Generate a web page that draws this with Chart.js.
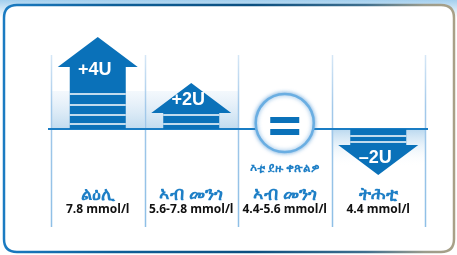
<!DOCTYPE html>
<html>
<head>
<meta charset="utf-8">
<script src="https://cdn.jsdelivr.net/npm/chart.js@4"></script>
<style>
  html, body { margin: 0; padding: 0; background: #fff; }
  #wrap { width: 457px; height: 255px; }
</style>
</head>
<body>
<div id="wrap"><canvas id="dose-chart" width="457" height="255"></canvas></div>
<script>
// insulin dose change per glucose level
const doses = [4, 2, 0, -2];
const doseLabels = ['+4U', '+2U', '=', '–2U'];
const levelNames = ['ልዕሊ', 'ኣብ መንጎ', 'ኣብ መንጎ', 'ትሕቲ'];
const levelRanges = ['7.8 mmol/l', '5.6-7.8 mmol/l', '4.4-5.6 mmol/l', '4.4 mmol/l'];
const keepNote = 'እቲ ደዙ ቀጽልዎ';

const BLUE = '#0a71b9';

// Function to trace a rounded rectangle
function roundRect(ctx, x, y, w, h, r) {
    ctx.beginPath();
    ctx.moveTo(x + r, y);
    ctx.lineTo(x + w - r, y);
    ctx.quadraticCurveTo(x + w, y, x + w, y + r);
    ctx.lineTo(x + w, y + h - r);
    ctx.quadraticCurveTo(x + w, y + h, x + w - r, y + h);
    ctx.lineTo(x + r, y + h);
    ctx.quadraticCurveTo(x, y + h, x, y + h - r);
    ctx.lineTo(x, y + r);
    ctx.quadraticCurveTo(x, y, x + r, y);
    ctx.closePath();
}

// frame, column shading and separators
const framePlugin = {
    id: 'frame',
    beforeDraw(chart) {
        const ctx = chart.ctx;
        const area = chart.chartArea;
        const xs = chart.scales.x;
        const zeroY = chart.scales.y.getPixelForValue(0);
        const half = (xs.getPixelForValue(1) - xs.getPixelForValue(0)) / 2;

        ctx.save();
        ctx.fillStyle = '#fff';
        ctx.fillRect(0, 0, 457, 255);
        const band = ctx.createLinearGradient(0, 0, 0, 18);
        band.addColorStop(0, '#a3cfee');
        band.addColorStop(1, '#ffffff');
        ctx.fillStyle = band;
        ctx.fillRect(0, 0, 457, 18);

        roundRect(ctx, 4, 5, 450, 247, 13);
        ctx.fillStyle = '#fff';
        ctx.fill();
        const edge = ctx.createLinearGradient(0, 0, 457, 0);
        edge.addColorStop(0, '#1b7cc3');
        edge.addColorStop(0.25, '#0e5f98');
        edge.addColorStop(0.55, '#0b4f80');
        edge.addColorStop(0.8, '#3f6f8e');
        edge.addColorStop(0.93, '#9c9c8c');
        edge.addColorStop(1, '#aaa187');
        ctx.strokeStyle = edge;
        ctx.lineWidth = 2.5;
        ctx.stroke();

        // soft shading behind the arrows
        doses.forEach((d, i) => {
            if (d === 0) return;
            const cx = xs.getPixelForValue(i);
            const g = d > 0
                ? ctx.createLinearGradient(0, zeroY - 38, 0, zeroY)
                : ctx.createLinearGradient(0, zeroY, 0, zeroY + 38);
            if (d > 0) {
                g.addColorStop(0, 'rgba(232,241,250,0.5)');
                g.addColorStop(1, '#c0dbef');
                ctx.fillStyle = g;
                ctx.fillRect(cx - half, zeroY - 38, half * 2, 38);
            } else {
                g.addColorStop(0, '#b9d8ef');
                g.addColorStop(1, 'rgba(255,255,255,0)');
                ctx.fillStyle = g;
                ctx.fillRect(cx - half, zeroY, half * 2, 38);
            }
        });

        // column separators
        const top = 55;
        const lg = ctx.createLinearGradient(0, top, 0, area.bottom);
        lg.addColorStop(0, '#d6e7f6');
        lg.addColorStop(0.3, '#a3c9ea');
        lg.addColorStop(1, '#8ebfe6');
        ctx.strokeStyle = lg;
        ctx.lineWidth = 1.5;
        for (let i = 0; i <= doses.length; i++) {
            const x = Math.round(xs.getPixelForValue(0) - half + i * half * 2) + 0.5;
            ctx.beginPath();
            ctx.moveTo(x, top);
            ctx.lineTo(x, area.bottom);
            ctx.stroke();
        }

        // zero line
        ctx.strokeStyle = '#1a7dc4';
        ctx.lineWidth = 2;
        ctx.beginPath();
        ctx.moveTo(area.left - 3, zeroY);
        ctx.lineTo(area.right + 3, zeroY);
        ctx.stroke();
        ctx.restore();
    }
};

// arrows, the equal badge and the text under each column
const arrowPlugin = {
    id: 'arrows',
    afterDatasetsDraw(chart) {
        const ctx = chart.ctx;
        const ys = chart.scales.y;
        const meta = chart.getDatasetMeta(0);
        const zeroY = ys.getPixelForValue(0);
        const headH = 30, headHalf = 40, shaftHalf = 28;

        ctx.save();
        meta.data.forEach((bar, i) => {
            const d = doses[i];
            const cx = bar.x;
            const tip = bar.y;

            if (d === 0) {
                const cy = zeroY - 6;
                ctx.save();
                ctx.shadowColor = 'rgba(60,140,210,0.7)';
                ctx.shadowBlur = 4;
                ctx.beginPath();
                ctx.arc(cx, cy, 29, 0, Math.PI * 2);
                ctx.fillStyle = '#fff';
                ctx.fill();
                ctx.lineWidth = 2.5;
                ctx.strokeStyle = '#6aaee2';
                ctx.stroke();
                ctx.restore();
                ctx.fillStyle = BLUE;
                ctx.fillRect(cx - 14.5, cy - 6, 29, 6);
                ctx.fillRect(cx - 14.5, cy + 6, 29, 6);
                return;
            }

            const dir = d > 0 ? -1 : 1;
            const headBase = tip - dir * headH;
            ctx.fillStyle = BLUE;
            ctx.beginPath();
            ctx.moveTo(cx - shaftHalf, zeroY);
            ctx.lineTo(cx - shaftHalf, headBase);
            ctx.lineTo(cx - headHalf, headBase);
            ctx.lineTo(cx, tip);
            ctx.lineTo(cx + headHalf, headBase);
            ctx.lineTo(cx + shaftHalf, headBase);
            ctx.lineTo(cx + shaftHalf, zeroY);
            ctx.closePath();
            ctx.fill();

            // stripes in the shaft
            ctx.strokeStyle = '#fff';
            ctx.lineWidth = 1.3;
            const steps = d > 0 ? [5, 14, 24, 35] : [7, 13];
            steps.forEach(s => {
                const y = zeroY + dir * s;
                if (Math.abs(y - zeroY) < Math.abs(headBase - zeroY) - 1) {
                    ctx.beginPath();
                    ctx.moveTo(cx - shaftHalf, y);
                    ctx.lineTo(cx + shaftHalf, y);
                    ctx.stroke();
                }
            });

            ctx.fillStyle = '#fff';
            ctx.font = 'bold 18px "Liberation Sans", Arial, sans-serif';
            ctx.textAlign = 'center';
            ctx.textBaseline = 'middle';
            ctx.fillText(doseLabels[i], cx - 3, ys.getPixelForValue(d * 0.64));
        });

        // labels under the columns
        ctx.textAlign = 'center';
        ctx.textBaseline = 'middle';
        meta.data.forEach((bar, i) => {
            ctx.fillStyle = '#1e7fc6';
            ctx.font = 'bold 18px "Noto Sans", "DejaVu Sans", sans-serif';
            ctx.fillText(levelNames[i], bar.x, 195);
            ctx.fillStyle = '#111';
            ctx.font = 'bold 12px "Open Sans", "Liberation Sans", sans-serif';
            ctx.fillText(levelRanges[i], bar.x, 210);
            if (doses[i] === 0) {
                ctx.fillStyle = '#1e7fc6';
                ctx.font = 'bold 12px "Noto Sans", "DejaVu Sans", sans-serif';
                ctx.fillText(keepNote, bar.x, 169);
            }
        });
        ctx.restore();
    }
};

function renderDoseChart() {
    const ctx = document.getElementById('dose-chart').getContext('2d');
    new Chart(ctx, {
        type: 'bar',
        data: {
            labels: levelNames,
            datasets: [{
                data: doses,
                backgroundColor: 'rgba(0,0,0,0)',
                borderWidth: 0,
                barThickness: 56,
                clip: false
            }]
        },
        options: {
            responsive: false,
            animation: false,
            layout: { padding: { left: 51, right: 32, top: 37, bottom: 28 } },
            plugins: { legend: { display: false }, tooltip: { enabled: false } },
            scales: {
                x: { display: false, offset: true },
                y: { display: false, min: -4.26, max: 4 }
            }
        },
        plugins: [framePlugin, arrowPlugin]
    });
}

document.addEventListener('DOMContentLoaded', renderDoseChart);
</script>
</body>
</html>
